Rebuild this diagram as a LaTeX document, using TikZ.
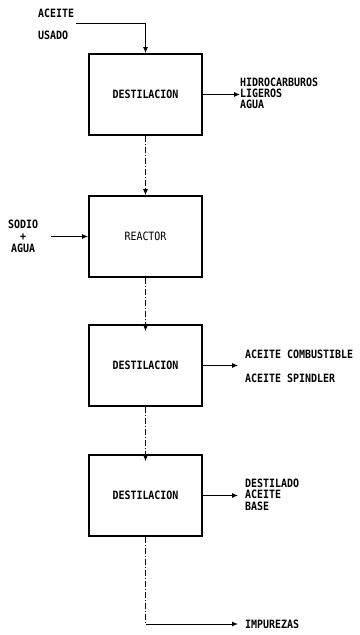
\documentclass[tikz,border=0pt]{standalone}
\usepackage{fontspec}
\setmainfont{DejaVu Sans Mono}
\usetikzlibrary{arrows.meta}
\newcommand{\tl}[1]{\scalebox{1}[1.15]{#1}}
\begin{document}
\begin{tikzpicture}[x=1bp,y=-1bp,
  font=\fontsize{10}{10.5}\selectfont\bfseries,
  proc/.style={draw, line width=1.7bp, minimum width=113bp, minimum height=81bp, inner sep=0pt},
  lbl/.style={anchor=west, inner sep=0pt, align=left},
  flow/.style={line width=1bp, -{Latex[length=6bp,width=5bp]}},
  dflow/.style={line width=0.9bp, dash pattern=on 6bp off 2bp on 1bp off 2bp, -{Latex[length=6bp,width=5bp]}},
  dline/.style={line width=0.9bp, dash pattern=on 6bp off 2bp on 1bp off 2bp}
]
\useasboundingbox (0,0) rectangle (359,635);
\node[proc] (b1) at (145.5,94.5) {\tl{DESTILACION}};
\node[proc] (b2) at (145.5,236.5) {\tl{\mdseries REACTOR}};
\node[proc] (b3) at (145.5,365.5) {\tl{DESTILACION}};
\node[proc] (b4) at (145.5,495.5) {\tl{DESTILACION}};

\node[lbl] (au1) at (38,13) {\tl{ACEITE}};
\node[lbl] (au2) at (38,35) {\tl{USADO}};
\coordinate (cin) at (76,24);
\draw[flow] (cin) -| (b1.north);

\node[lbl, font=\fontsize{10}{11}\selectfont\bfseries] (o1) at (240,93) {\tl{HIDROCARBUROS}\\\tl{LIGEROS}\\\tl{AGUA}};
\draw[flow] (b1.east) -- (b1.east -| o1.west);

\draw[dflow] (b1.south) -- (b2.north);

\node[lbl, font=\fontsize{10}{12}\selectfont\bfseries, align=center] (s1) at (8,236) {\tl{SODIO}\\\tl{+}\\\tl{AGUA}};
\coordinate (sin) at (51,236.5);
\draw[flow] (sin) -- (b2.west);

\draw[dflow] (b2.south) -- ([yshift=-7bp]b3.north);

\node[lbl] (o2a) at (245,354) {\tl{ACEITE COMBUSTIBLE}};
\node[lbl] (o2b) at (245,378) {\tl{ACEITE SPINDLER}};
\coordinate (e3) at (238,365.5);
\draw[flow] (b3.east) -- (e3);

\draw[dflow] (b3.south) -- ([yshift=-7bp]b4.north);

\node[lbl, font=\fontsize{10}{11.5}\selectfont\bfseries] (o3) at (245,494.5) {\tl{DESTILADO}\\\tl{ACEITE}\\\tl{BASE}};
\coordinate (e4) at (238,495.5);
\draw[flow] (b4.east) -- (e4);

\node[lbl] (imp) at (245,624) {\tl{IMPUREZAS}};
\coordinate (corner) at (145.5,624);
\draw[dline] (b4.south) -- (corner);
\draw[flow] (corner) -- (imp.west -| 238,0);
\end{tikzpicture}
\end{document}
